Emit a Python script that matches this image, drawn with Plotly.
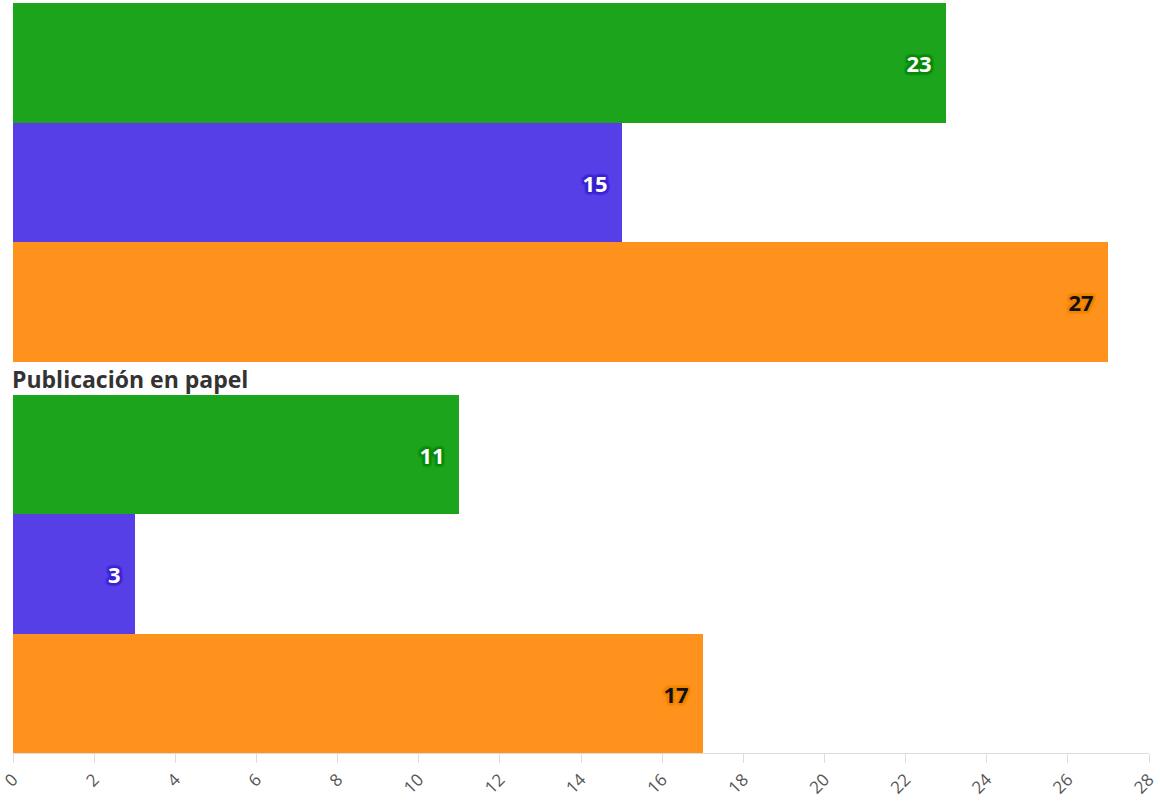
import plotly.graph_objects as go

# ---- data ----
series = ["Serie A", "Serie B", "Serie C"]
group_labels = ["", "Publicación en papel"]
values_group1 = [23, 15, 27]
values_group2 = [11, 3, 17]
x_ticks = list(range(0, 29, 2))

# ---- styles ----
bar_colors = ["#1ca41c", "#573fe8", "#ff921d"]
text_colors = ["#ffffff", "#ffffff", "#111111"]
halo_colors = ["#0a8a0a", "#3b24d0", "#f08500"]

def halo(c):
    parts = []
    for dx, dy in [(1, 1), (-1, -1), (1, -1), (-1, 1), (0, 2), (0, -2), (2, 0), (-2, 0),
                   (2, 2), (-2, -2), (2, -2), (-2, 2)]:
        parts.append(f"{dx}px {dy}px 2px {c}")
    return ", ".join(parts)

W, H = 1160, 801
m_top, m_bot, m_left, m_right = 3, 48, 13, 11
plot_h = H - m_top - m_bot

def py(pix):
    return (H - m_bot - pix) / plot_h

fig = go.Figure()
for vals, ax in [(values_group1, "y"), (values_group2, "y2")]:
    fig.add_trace(go.Bar(
        y=series, x=vals, orientation="h", yaxis=ax, xaxis="x",
        marker=dict(color=bar_colors, line=dict(width=0)),
        text=[f"{v}\u00a0\u00a0" for v in vals], textposition="inside", insidetextanchor="end",
        textfont=dict(family="Open Sans", size=22, color=text_colors, weight="bold",
                      shadow=[halo(c) for c in halo_colors]),
        cliponaxis=False, showlegend=False, hoverinfo="skip",
    ))

fig.update_layout(
    template="none",
    width=W, height=H,
    margin=dict(t=m_top, b=m_bot, l=m_left, r=m_right, pad=0, autoexpand=False),
    paper_bgcolor="white", plot_bgcolor="white",
    bargap=0, barmode="overlay",
    font=dict(family="Open Sans", color="#333"),
    xaxis=dict(range=[0, 28], tickvals=x_ticks, ticks="outside", ticklen=9, tickwidth=1,
               tickcolor="#dddddd", showline=True, linecolor="#dddddd", linewidth=1,
               showgrid=False, zeroline=False, tickangle=-45, automargin=False,
               ticklabeloverflow="allow",
               tickfont=dict(family="Open Sans", size=17, color="#555"), anchor="y2"),
    yaxis=dict(domain=[py(362), 1], autorange="reversed", showticklabels=False,
               showgrid=False, zeroline=False, ticks="", showline=False, automargin=False),
    yaxis2=dict(domain=[0, py(395)], autorange="reversed", showticklabels=False,
                showgrid=False, zeroline=False, ticks="", showline=False, automargin=False),
    annotations=[dict(text=group_labels[1], x=0, xref="paper", xanchor="left", xshift=-3,
                      y=py(379), yref="paper", yanchor="middle", showarrow=False,
                      font=dict(family="Open Sans", size=23, color="#333", weight="bold"))],
)

fig.write_html("out.html")
